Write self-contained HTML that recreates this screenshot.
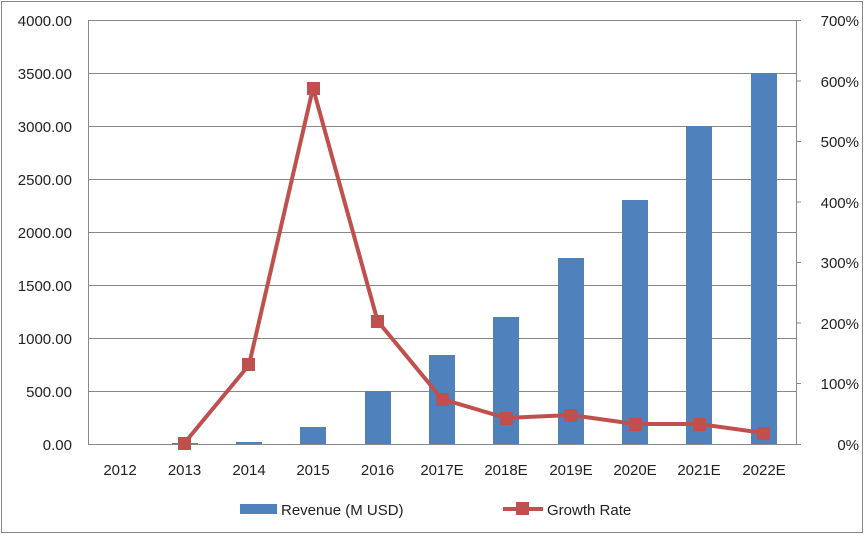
<!DOCTYPE html>
<html><head><style>body{margin:0;background:#fff}svg{display:block}text{font-family:"Liberation Sans",sans-serif;font-size:15px;fill:#222}</style></head><body>
<svg width="865" height="536" xmlns="http://www.w3.org/2000/svg">
<rect x="1.5" y="1.5" width="861" height="531" fill="#fff" stroke="#888" stroke-width="1"/>
<g stroke="#888" stroke-width="1">
<line x1="88" y1="20.5" x2="796" y2="20.5"/><line x1="88" y1="73.5" x2="796" y2="73.5"/><line x1="88" y1="126.5" x2="796" y2="126.5"/><line x1="88" y1="179.5" x2="796" y2="179.5"/><line x1="88" y1="232.5" x2="796" y2="232.5"/><line x1="88" y1="285.5" x2="796" y2="285.5"/><line x1="88" y1="338.5" x2="796" y2="338.5"/><line x1="88" y1="391.5" x2="796" y2="391.5"/>
<line x1="88.5" y1="20" x2="88.5" y2="444"/><line x1="796.5" y1="20" x2="796.5" y2="444"/><line x1="88" y1="444.5" x2="796" y2="444.5"/>
<line x1="796" y1="20.5" x2="801" y2="20.5"/><line x1="796" y1="81" x2="801" y2="81"/><line x1="796" y1="141.5" x2="801" y2="141.5"/><line x1="796" y1="202" x2="801" y2="202"/><line x1="796" y1="262.5" x2="801" y2="262.5"/><line x1="796" y1="323" x2="801" y2="323"/><line x1="796" y1="383.5" x2="801" y2="383.5"/><line x1="796" y1="444.5" x2="801" y2="444.5"/>
</g>
<g fill="#4f81bd">
<rect x="172" y="443" width="26" height="1"/><rect x="236" y="442" width="26" height="2"/><rect x="300" y="427" width="26" height="17"/><rect x="365" y="391" width="26" height="53"/><rect x="429" y="355" width="26" height="89"/><rect x="493" y="317" width="26" height="127"/><rect x="558" y="258" width="26" height="186"/><rect x="622" y="200" width="26" height="244"/><rect x="686" y="126" width="26" height="318"/><rect x="751" y="73" width="26" height="371"/>
</g>
<polyline fill="none" stroke="#c0504d" stroke-width="4" points="184.5,443 249,365 313,88 377.6,321 442,399 506,418 571,415 635,424 699,424 764,433"/>
<g fill="#c0504d">
<rect x="178" y="437" width="13" height="13"/><rect x="242" y="358" width="13" height="13"/><rect x="307" y="82" width="13" height="13"/><rect x="371" y="315" width="13" height="13"/><rect x="436" y="393" width="13" height="13"/><rect x="500" y="412" width="13" height="13"/><rect x="564" y="409" width="13" height="13"/><rect x="629" y="418" width="13" height="13"/><rect x="693" y="418" width="13" height="13"/><rect x="757" y="427" width="13" height="13"/>
</g>
<g text-anchor="end">
<text x="72" y="26">4000.00</text><text x="72" y="79">3500.00</text><text x="72" y="132">3000.00</text><text x="72" y="185">2500.00</text><text x="72" y="238">2000.00</text><text x="72" y="291">1500.00</text><text x="72" y="344">1000.00</text><text x="72" y="397">500.00</text><text x="72" y="450">0.00</text>
<text x="859" y="26">700%</text><text x="859" y="87">600%</text><text x="859" y="147">500%</text><text x="859" y="208">400%</text><text x="859" y="268">300%</text><text x="859" y="329">200%</text><text x="859" y="389">100%</text><text x="859" y="450">0%</text>
</g>
<g text-anchor="middle">
<text x="120" y="475">2012</text><text x="184.5" y="475">2013</text><text x="249" y="475">2014</text><text x="313" y="475">2015</text><text x="377.6" y="475">2016</text><text x="442" y="475">2017E</text><text x="506" y="475">2018E</text><text x="571" y="475">2019E</text><text x="635" y="475">2020E</text><text x="699" y="475">2021E</text><text x="764" y="475">2022E</text>
</g>
<rect x="240" y="504" width="37" height="10" fill="#4f81bd"/>
<text x="281" y="515">Revenue (M USD)</text>
<line x1="503" y1="509" x2="543" y2="509" stroke="#c0504d" stroke-width="4"/>
<rect x="516" y="502" width="13" height="13" fill="#c0504d"/>
<text x="547" y="515">Growth Rate</text>
</svg>
</body></html>
